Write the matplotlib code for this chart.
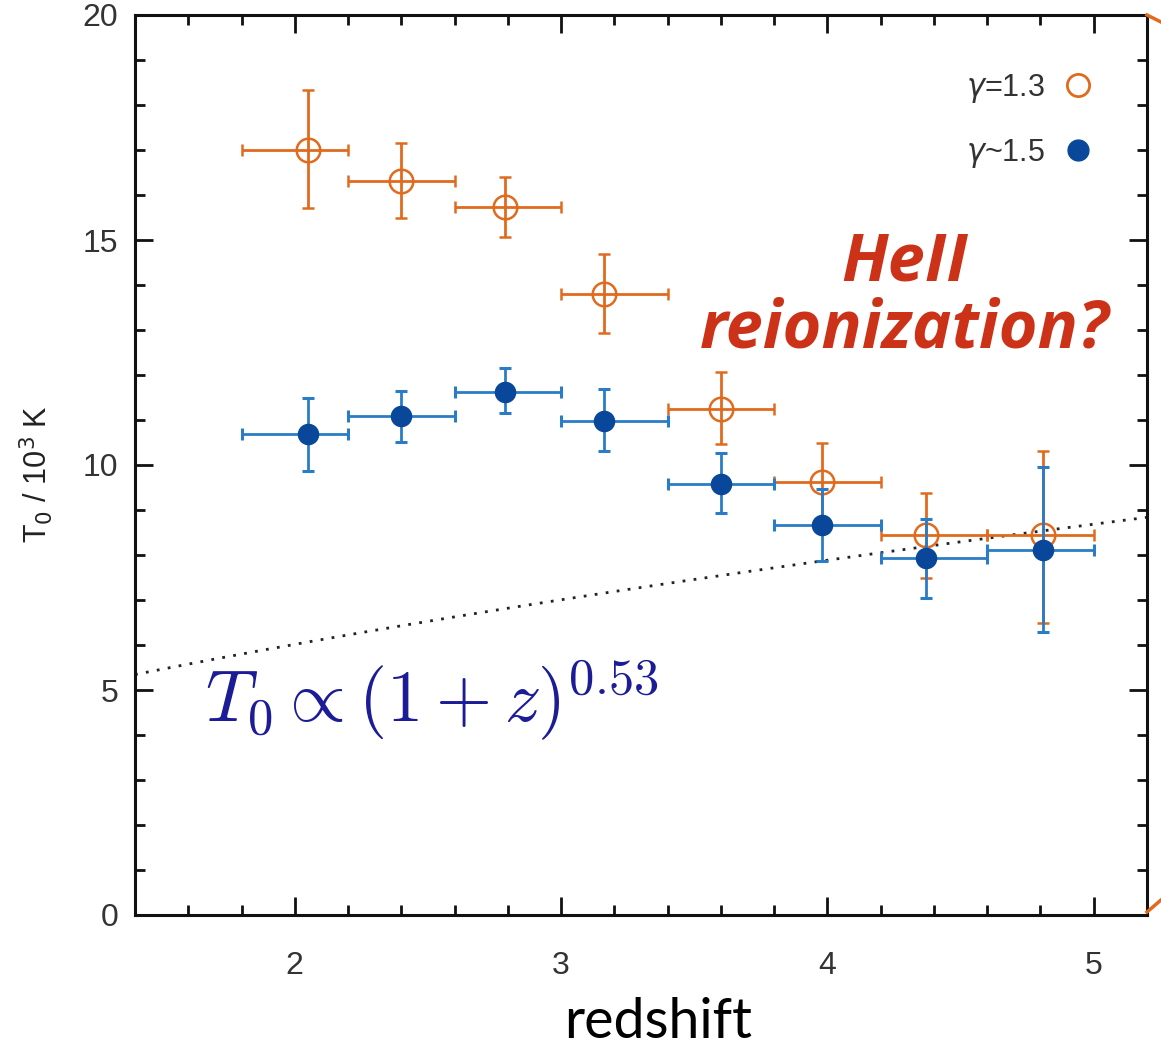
import matplotlib
matplotlib.use("Agg")
import matplotlib.pyplot as plt
import numpy as np
from matplotlib.lines import Line2D
from matplotlib.font_manager import FontProperties

# Redshift bins and temperature measurements (T0 in units of 10^3 K)
z_center = [2.05, 2.40, 2.79, 3.16, 3.60, 3.98, 4.37, 4.81]
z_low = [1.80, 2.20, 2.60, 3.00, 3.40, 3.80, 4.20, 4.60]
z_high = [2.20, 2.60, 3.00, 3.40, 3.80, 4.20, 4.60, 5.00]

t0_g13 = [17.00, 16.31, 15.74, 13.81, 11.24, 9.63, 8.44, 8.44]
t0_g13_up = [18.33, 17.16, 16.39, 14.70, 12.07, 10.50, 9.37, 10.30]
t0_g13_dn = [15.71, 15.48, 15.07, 12.94, 10.47, 8.83, 7.50, 6.50]

t0_g15 = [10.69, 11.09, 11.63, 10.98, 9.58, 8.67, 7.93, 8.11]
t0_g15_up = [11.50, 11.65, 12.15, 11.68, 10.27, 9.47, 8.81, 9.96]
t0_g15_dn = [9.87, 10.52, 11.16, 10.30, 8.93, 7.87, 7.04, 6.29]

# Power-law scaling T0 = A (1+z)^slope
pl_amp = 3.36
pl_slope = 0.53

x_ticks = [2, 3, 4, 5]
y_ticks = [0, 5, 10, 15, 20]

orange = "#e06a1e"
blue_bar = "#2a7cc6"
blue_dot = "#08479a"
text_gray = "#333333"

plt.rcParams["font.family"] = ["Liberation Sans", "DejaVu Sans"]
plt.rcParams["mathtext.fontset"] = "dejavusans"

fig = plt.figure(figsize=(11.61, 10.49), dpi=100)
ax = fig.add_axes([135 / 1161, 1 - 915 / 1049, (1147 - 135) / 1161, 900 / 1049])

zc = np.array(z_center)
xerr = [zc - np.array(z_low), np.array(z_high) - zc]

a = np.array(t0_g13)
ax.errorbar(zc, a, xerr=xerr,
            yerr=[a - np.array(t0_g13_dn), np.array(t0_g13_up) - a],
            fmt="o", ms=17, mfc="none", mec=orange, mew=1.8,
            ecolor=orange, elinewidth=2.0, capsize=4.5, capthick=2.2,
            zorder=3)

b = np.array(t0_g15)
ax.errorbar(zc, b, xerr=xerr,
            yerr=[b - np.array(t0_g15_dn), np.array(t0_g15_up) - b],
            fmt="none", ecolor=blue_bar, elinewidth=2.0, capsize=4.5,
            capthick=2.2, zorder=4)
ax.plot(zc, b, "o", ms=14.5, color=blue_dot, zorder=5)

zz = np.linspace(1.4, 5.2, 200)
ax.plot(zz, pl_amp * (1 + zz) ** pl_slope, color="#222222", lw=2.0,
        linestyle=(0, (1, 3.0)), zorder=2)

ax.set_xlim(1.4, 5.2)
ax.set_ylim(0, 20)
ax.set_xticks(x_ticks)
ax.set_yticks(y_ticks)
ax.set_xticks(np.arange(1.6, 5.2, 0.2), minor=True)
ax.set_yticks(np.arange(0, 21, 1), minor=True)
ax.tick_params(which="both", direction="in", top=True, right=True,
               width=2.0, color="#111111")
ax.tick_params(which="major", length=13)
ax.tick_params(which="minor", length=7)
ax.tick_params(axis="x", which="major", labelsize=23, pad=26,
               labelcolor=text_gray)
ax.tick_params(axis="y", which="major", labelsize=23, pad=12,
               labelcolor=text_gray)
for s in ax.spines.values():
    s.set_linewidth(2.2)
    s.set_color("#111111")

ax.set_ylabel("T$_0$ / 10$^3$ K", fontsize=22, color="#222222")
ax.yaxis.set_label_coords(-0.079, 0.49)
ax.set_xlabel("redshift", fontsize=40, family="Lato", color="black")
ax.xaxis.set_label_coords(0.517, -0.091)

# legend keys drawn from the styles above
handles = [Line2D([], [], ls="none", marker="o", ms=16, mfc="none",
                  mec=orange, mew=2.0),
           Line2D([], [], ls="none", marker="o", ms=15, color=blue_dot)]
labels = ["$\\gamma$=1.3", "$\\gamma$~1.5"]
ax.legend(handles, labels, loc="upper right", frameon=False,
          markerfirst=False, handlelength=0.8, handletextpad=0.7,
          labelspacing=1.05, borderaxespad=1.45,
          prop=FontProperties(family="Liberation Sans", size=22),
          labelcolor=text_gray)

ax.text(4.29, 13.75, "HeII\nreionization?", fontsize=48, family="Open Sans",
        weight="bold", style="italic", color="#cc3218", ha="center",
        va="center", linespacing=1.0)

ax.text(1.663, 4.29, "$T_0 \\propto (1+z)^{0.53}$", fontsize=52,
        color="#1c1c96", ha="left", va="baseline", math_fontfamily="cm")

# slide bracket edges beside the frame
fig.add_artist(Line2D([1147 / 1161, 1161 / 1161], [1 - 15 / 1049, 1 - 22 / 1049],
                      color=orange, lw=2.5))
fig.add_artist(Line2D([1147 / 1161, 1161 / 1161], [1 - 912 / 1049, 1 - 900 / 1049],
                      color=orange, lw=2.5))

fig.savefig("out.png", dpi=100)
